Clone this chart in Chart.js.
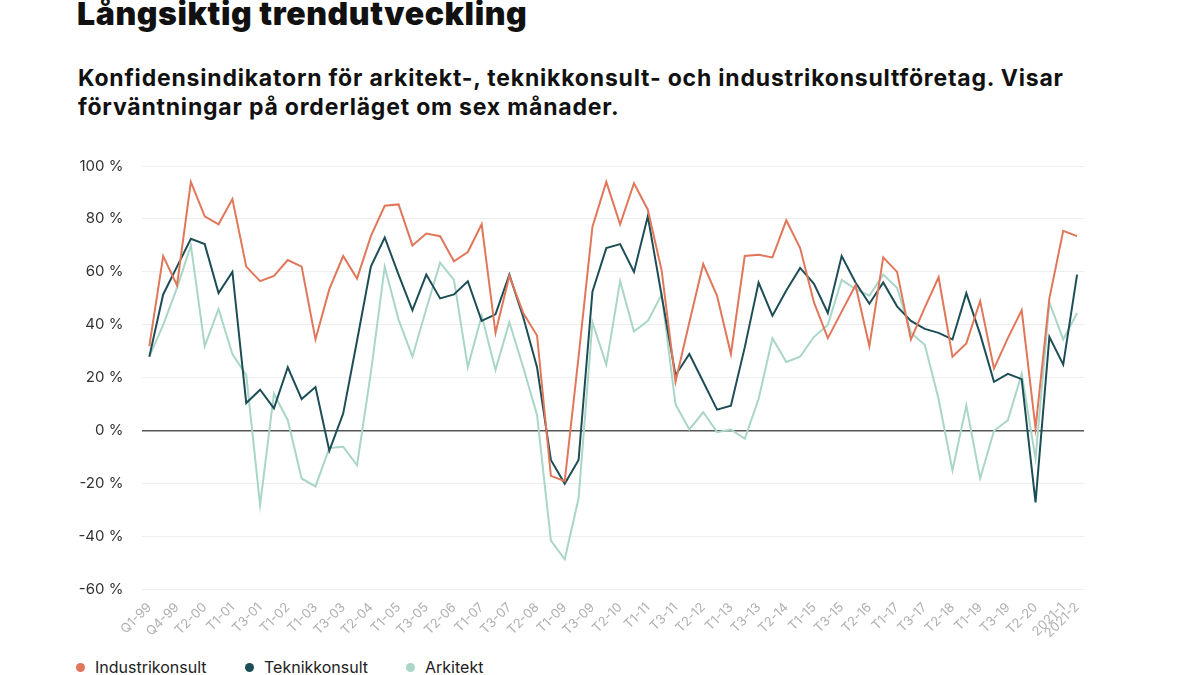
<!DOCTYPE html>
<html>
<head>
<meta charset="utf-8">
<script src="https://cdn.jsdelivr.net/npm/chart.js@4.4.1/dist/chart.umd.min.js"></script>
<style>
  body { margin: 0; background: #fff; width: 1200px; height: 675px; overflow: hidden; position: relative; font-family: Inter, "Noto Sans", sans-serif; color: #111; }
  #title { position: absolute; left: 77px; top: -6px; font-size: 32px; font-weight: 900; letter-spacing: 0.6px; }
  #sub { position: absolute; left: 78px; top: 64px; font-size: 23px; font-weight: 700; line-height: 29px; letter-spacing: 0.8px; }
  #wrap { position: absolute; left: 0; top: 130px; width: 1200px; height: 525px; }
  #legend { position: absolute; left: 76px; top: 657px; font-size: 16px; color: #222; }
  #legend span.item { position: absolute; white-space: nowrap; top: 0; }
  #legend i { display: inline-block; width: 9px; height: 9px; border-radius: 50%; margin-right: 10px; vertical-align: 1px; }
</style>
</head>
<body>
<div id="title">Långsiktig trendutveckling</div>
<div id="sub">Konfidensindikatorn för arkitekt-, teknikkonsult- och industrikonsultföretag. Visar<br>förväntningar på orderläget om sex månader.</div>
<div id="wrap"><canvas id="myChart"></canvas></div>
<div id="legend"></div>
<script>
// periods (only every other one is printed on the axis, plus the last)
const labels = [
  'Q1-99', 'Q3-99', 'Q4-99', 'T1-00', 'T2-00', 'T3-00', 'T1-01', 'T2-01', 'T3-01', 'Q4-01',
  'T1-02', 'T2-02', 'T1-03', 'T2-03', 'T3-03', 'T1-04', 'T2-04', 'T3-04', 'T1-05', 'T2-05',
  'T3-05', 'T1-06', 'T2-06', 'T3-06', 'T1-07', 'T2-07', 'T3-07', 'T1-08', 'T2-08', 'T3-08',
  'T1-09', 'T2-09', 'T3-09', 'T1-10', 'T2-10', 'T3-10', 'T1-11', 'T2-11', 'T3-11', 'T1-12',
  'T2-12', 'T3-12', 'T1-13', 'T2-13', 'T3-13', 'T1-14', 'T2-14', 'T3-14', 'T1-15', 'T2-15',
  'T3-15', 'T1-16', 'T2-16', 'T3-16', 'T1-17', 'T2-17', 'T3-17', 'T1-18', 'T2-18', 'T3-18',
  'T1-19', 'T2-19', 'T3-19', 'T1-20', 'T2-20', 'T3-20', '2021-1', '2021-2'
];

const industrikonsult = [
  32, 66, 55, 94, 81, 78, 87.5, 62, 56.5, 58.5,
  64.5, 62, 34.5, 53.5, 66, 57.5, 73.5, 85, 85.5, 70,
  74.5, 73.5, 64, 67.5, 78, 37, 58.5, 44.5, 36, -17,
  -19, 28, 77, 94, 78, 93.5, 83.5, 60.5, 18.5, 41,
  63, 51, 29, 66, 66.5, 65.5, 79.5, 69, 48.5, 35,
  45, 55, 32, 65.5, 60, 34.5, 46.5, 58, 28, 33,
  49, 23.5, 35, 45.5, 1, 50, 75.5, 73.5
];

const teknikkonsult = [
  28, 51.5, 62, 72.5, 70.5, 52, 60, 10.5, 15.5, 8.5,
  24, 12, 16.5, -7.5, 6.5, 34, 62, 73, 59, 45.5,
  59, 50, 51.5, 56.5, 41.5, 44, 59, 43, 24, -11,
  -20, -11, 52.5, 69, 70.5, 60, 81, 51, 21, 29,
  18.5, 8, 9.5, 31.5, 56, 43.5, 53, 61.5, 55.5, 44.5,
  66, 56, 48, 56, 47, 41.5, 38.5, 37, 34.5, 52,
  36.5, 18.5, 21.5, 19.5, -27, 35.5, 25, 59
];

const arkitekt = [
  28, 40, 54, 70, 32, 46, 29, 21, -28, 14,
  4, -18, -21, -6.5, -6, -13, 22, 62, 42, 28,
  46, 63.5, 57, 24, 43.5, 23, 41, 24, 6, -41.5,
  -48.5, -25.5, 41, 25, 56.5, 37.5, 41.5, 51.5, 10, 0.5,
  7, -0.5, 0.5, -3, 12, 35, 26, 28, 35.5, 40,
  57, 53.5, 51, 59, 54, 37, 32.5, 12, -15, 9.5,
  -18, 0, 4, 21.5, -10.5, 48.5, 34.5, 44.5
];

const seriesNames = ['Industrikonsult', 'Teknikkonsult', 'Arkitekt'];
const seriesColors = ['#e0775b', '#1d4e56', '#a9d6c6'];

const data = {
  labels: labels,
  datasets: [
    { label: seriesNames[0], data: industrikonsult, borderColor: seriesColors[0], backgroundColor: seriesColors[0] },
    { label: seriesNames[1], data: teknikkonsult, borderColor: seriesColors[1], backgroundColor: seriesColors[1] },
    { label: seriesNames[2], data: arkitekt, borderColor: seriesColors[2], backgroundColor: seriesColors[2] }
  ]
};

const config = {
  type: 'line',
  data: data,
  options: {
    responsive: true,
    maintainAspectRatio: false,
    animation: false,
    layout: { padding: { left: 66, right: 116, top: 36, bottom: 4 } },
    elements: {
      line: { borderWidth: 2, tension: 0 },
      point: { radius: 0, hoverRadius: 0 }
    },
    plugins: {
      legend: { display: false },
      tooltip: { enabled: false }
    },
    scales: {
      x: {
        offset: true,
        grid: { display: false, drawTicks: false },
        border: { display: false },
        ticks: {
          autoSkip: false,
          maxRotation: 45,
          minRotation: 45,
          padding: 10,
          color: '#b0b0b0',
          font: { family: 'Inter', size: 13 },
          callback: function (value, index) {
            if (index % 2 === 0 || index === labels.length - 1) return labels[index];
            return '';
          }
        }
      },
      y: {
        min: -60,
        max: 100,
        afterFit: function (scale) { scale.width = 76.4; },
        grid: {
          drawTicks: false,
          color: ctx => ctx.tick && ctx.tick.value === 0 ? '#555555' : '#eeeeee',
          lineWidth: ctx => ctx.tick && ctx.tick.value === 0 ? 1.5 : 1
        },
        border: { display: false },
        ticks: {
          stepSize: 20,
          padding: 19,
          color: '#333333',
          font: { family: 'Inter', size: 15 },
          callback: v => v + ' %'
        }
      }
    }
  }
};

const myChart = new Chart(document.getElementById('myChart'), config);

// legend as plain text below the chart
const legendX = [0, 169, 330];
const legend = document.getElementById('legend');
for (let i = 0; i < seriesNames.length; i++) {
  let item = document.createElement('span');
  item.className = 'item';
  item.style.left = legendX[i] + 'px';
  item.innerHTML = '<i style="background:' + seriesColors[i] + '"></i>' + seriesNames[i];
  legend.appendChild(item);
}
</script>
</body>
</html>
